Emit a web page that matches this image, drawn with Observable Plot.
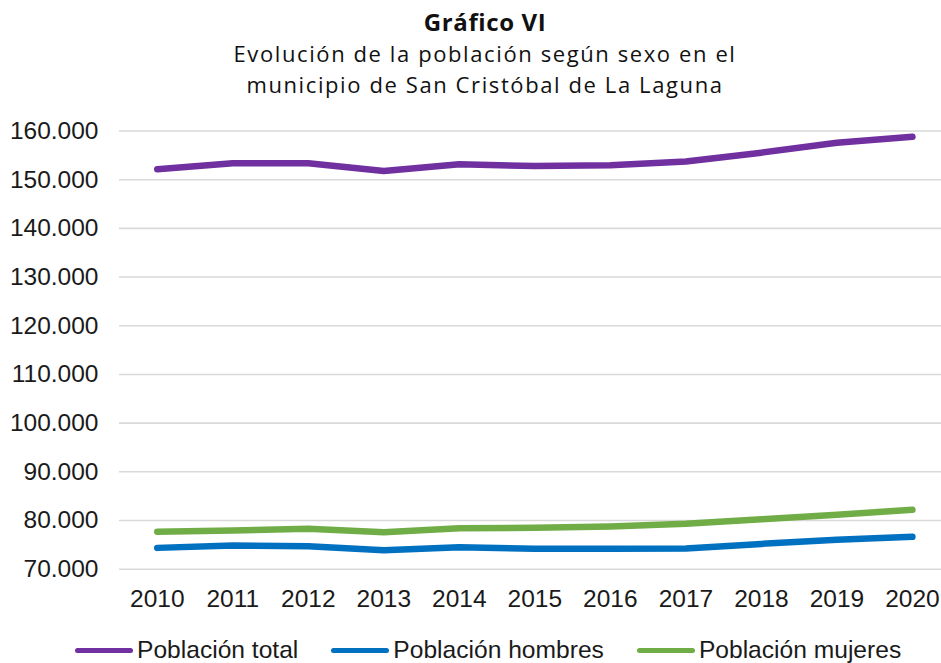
<!DOCTYPE html>
<html>
<head>
<meta charset="utf-8">
<script src="https://cdn.jsdelivr.net/npm/d3@7"></script>
<script src="https://cdn.jsdelivr.net/npm/@observablehq/plot@0.6"></script>
<style>
  html, body { margin: 0; padding: 0; background: #fff; }
  #wrap { position: relative; width: 941px; height: 663px; overflow: hidden; background: #fff; }
  #title { position: absolute; left: 29px; width: 912px; top: 6px; text-align: center; font-family: "Open Sans", sans-serif; color: #111; }
  #title .t1 { font-weight: 700; font-size: 24px; line-height: 32px; letter-spacing: 0.6px; }
  #title .t2 { font-size: 22px; line-height: 31px; letter-spacing: 1.6px; }
  #chart { position: absolute; left: 0; top: 100px; }
  #legend { position: absolute; left: 75px; top: 637px; width: 860px; height: 26px; display: flex; flex-wrap: nowrap; align-items: center; white-space: nowrap; font-family: "Liberation Sans", Arial, sans-serif; font-size: 24.6px; line-height: 26px; color: #1a1a1a; }
  #legend .item { display: flex; flex: 0 0 auto; align-items: center; margin-right: 33px; }
  #legend .sw { flex: 0 0 58px; width: 58px; height: 5px; border-radius: 3px; margin-right: 4px; }
</style>
</head>
<body>
<div id="wrap">
  <div id="title">
    <div class="t1">Gráfico VI</div>
    <div class="t2">Evolución de la población según sexo en el<br>municipio de San Cristóbal de La Laguna</div>
  </div>
  <div id="chart"></div>
  <div id="legend"></div>
</div>
<script>
const years = [2010, 2011, 2012, 2013, 2014, 2015, 2016, 2017, 2018, 2019, 2020];
const total = [152130, 153360, 153360, 151780, 153150, 152800, 152950, 153750, 155550, 157600, 158830];
const hombres = [74380, 74870, 74700, 73900, 74520, 74200, 74200, 74250, 75200, 76050, 76640];
const mujeres = [77700, 77960, 78290, 77600, 78420, 78490, 78780, 79320, 80250, 81200, 82190];
const seriesNames = ["Población total", "Población hombres", "Población mujeres"];
const seriesColors = ["#7030A0", "#0070C0", "#70AD47"];
const yTicks = [70000, 80000, 90000, 100000, 110000, 120000, 130000, 140000, 150000, 160000];

const seriesValues = [total, hombres, mujeres];
const data = [];
seriesNames.forEach((name, i) => {
  years.forEach((yr, j) => data.push({series: name, year: yr, value: seriesValues[i][j]}));
});

const fmt = d => d3.format(",")(d).replace(/,/g, ".");

const chart = Plot.plot({
  width: 941,
  height: 520,
  marginLeft: 119,
  marginRight: 0,
  marginTop: 30.5,
  marginBottom: 51.3,
  style: {fontFamily: "'Liberation Sans', Arial, sans-serif", fontSize: "24.5px", color: "#1a1a1a", background: "transparent"},
  x: {type: "linear", domain: [2009.5, 2020.385], ticks: years, tickFormat: d => String(d), tickSize: 0, tickPadding: 20, label: null},
  y: {domain: [70000, 160000], ticks: yTicks, tickFormat: fmt, tickSize: 0, tickPadding: 21, label: null},
  color: {domain: seriesNames, range: seriesColors},
  marks: [
    Plot.gridY(yTicks, {stroke: "#d9d9d9", strokeOpacity: 1, strokeWidth: 1.6}),
    Plot.axisX({ticks: years, tickFormat: d => String(d), tickSize: 0, tickPadding: 20, fill: "#1a1a1a"}),
    Plot.axisY({ticks: yTicks, tickFormat: fmt, tickSize: 0, tickPadding: 21, fill: "#1a1a1a"}),
    Plot.line(data, {x: "year", y: "value", z: "series", stroke: "series", strokeWidth: 6.5, strokeLinecap: "round", strokeLinejoin: "round"})
  ]
});
document.getElementById("chart").appendChild(chart);

const legend = document.getElementById("legend");
seriesNames.forEach((name, i) => {
  const item = document.createElement("div");
  item.className = "item";
  const sw = document.createElement("div");
  sw.className = "sw";
  sw.style.background = seriesColors[i];
  const tx = document.createElement("span");
  tx.textContent = name;
  item.appendChild(sw);
  item.appendChild(tx);
  legend.appendChild(item);
});
</script>
</body>
</html>
